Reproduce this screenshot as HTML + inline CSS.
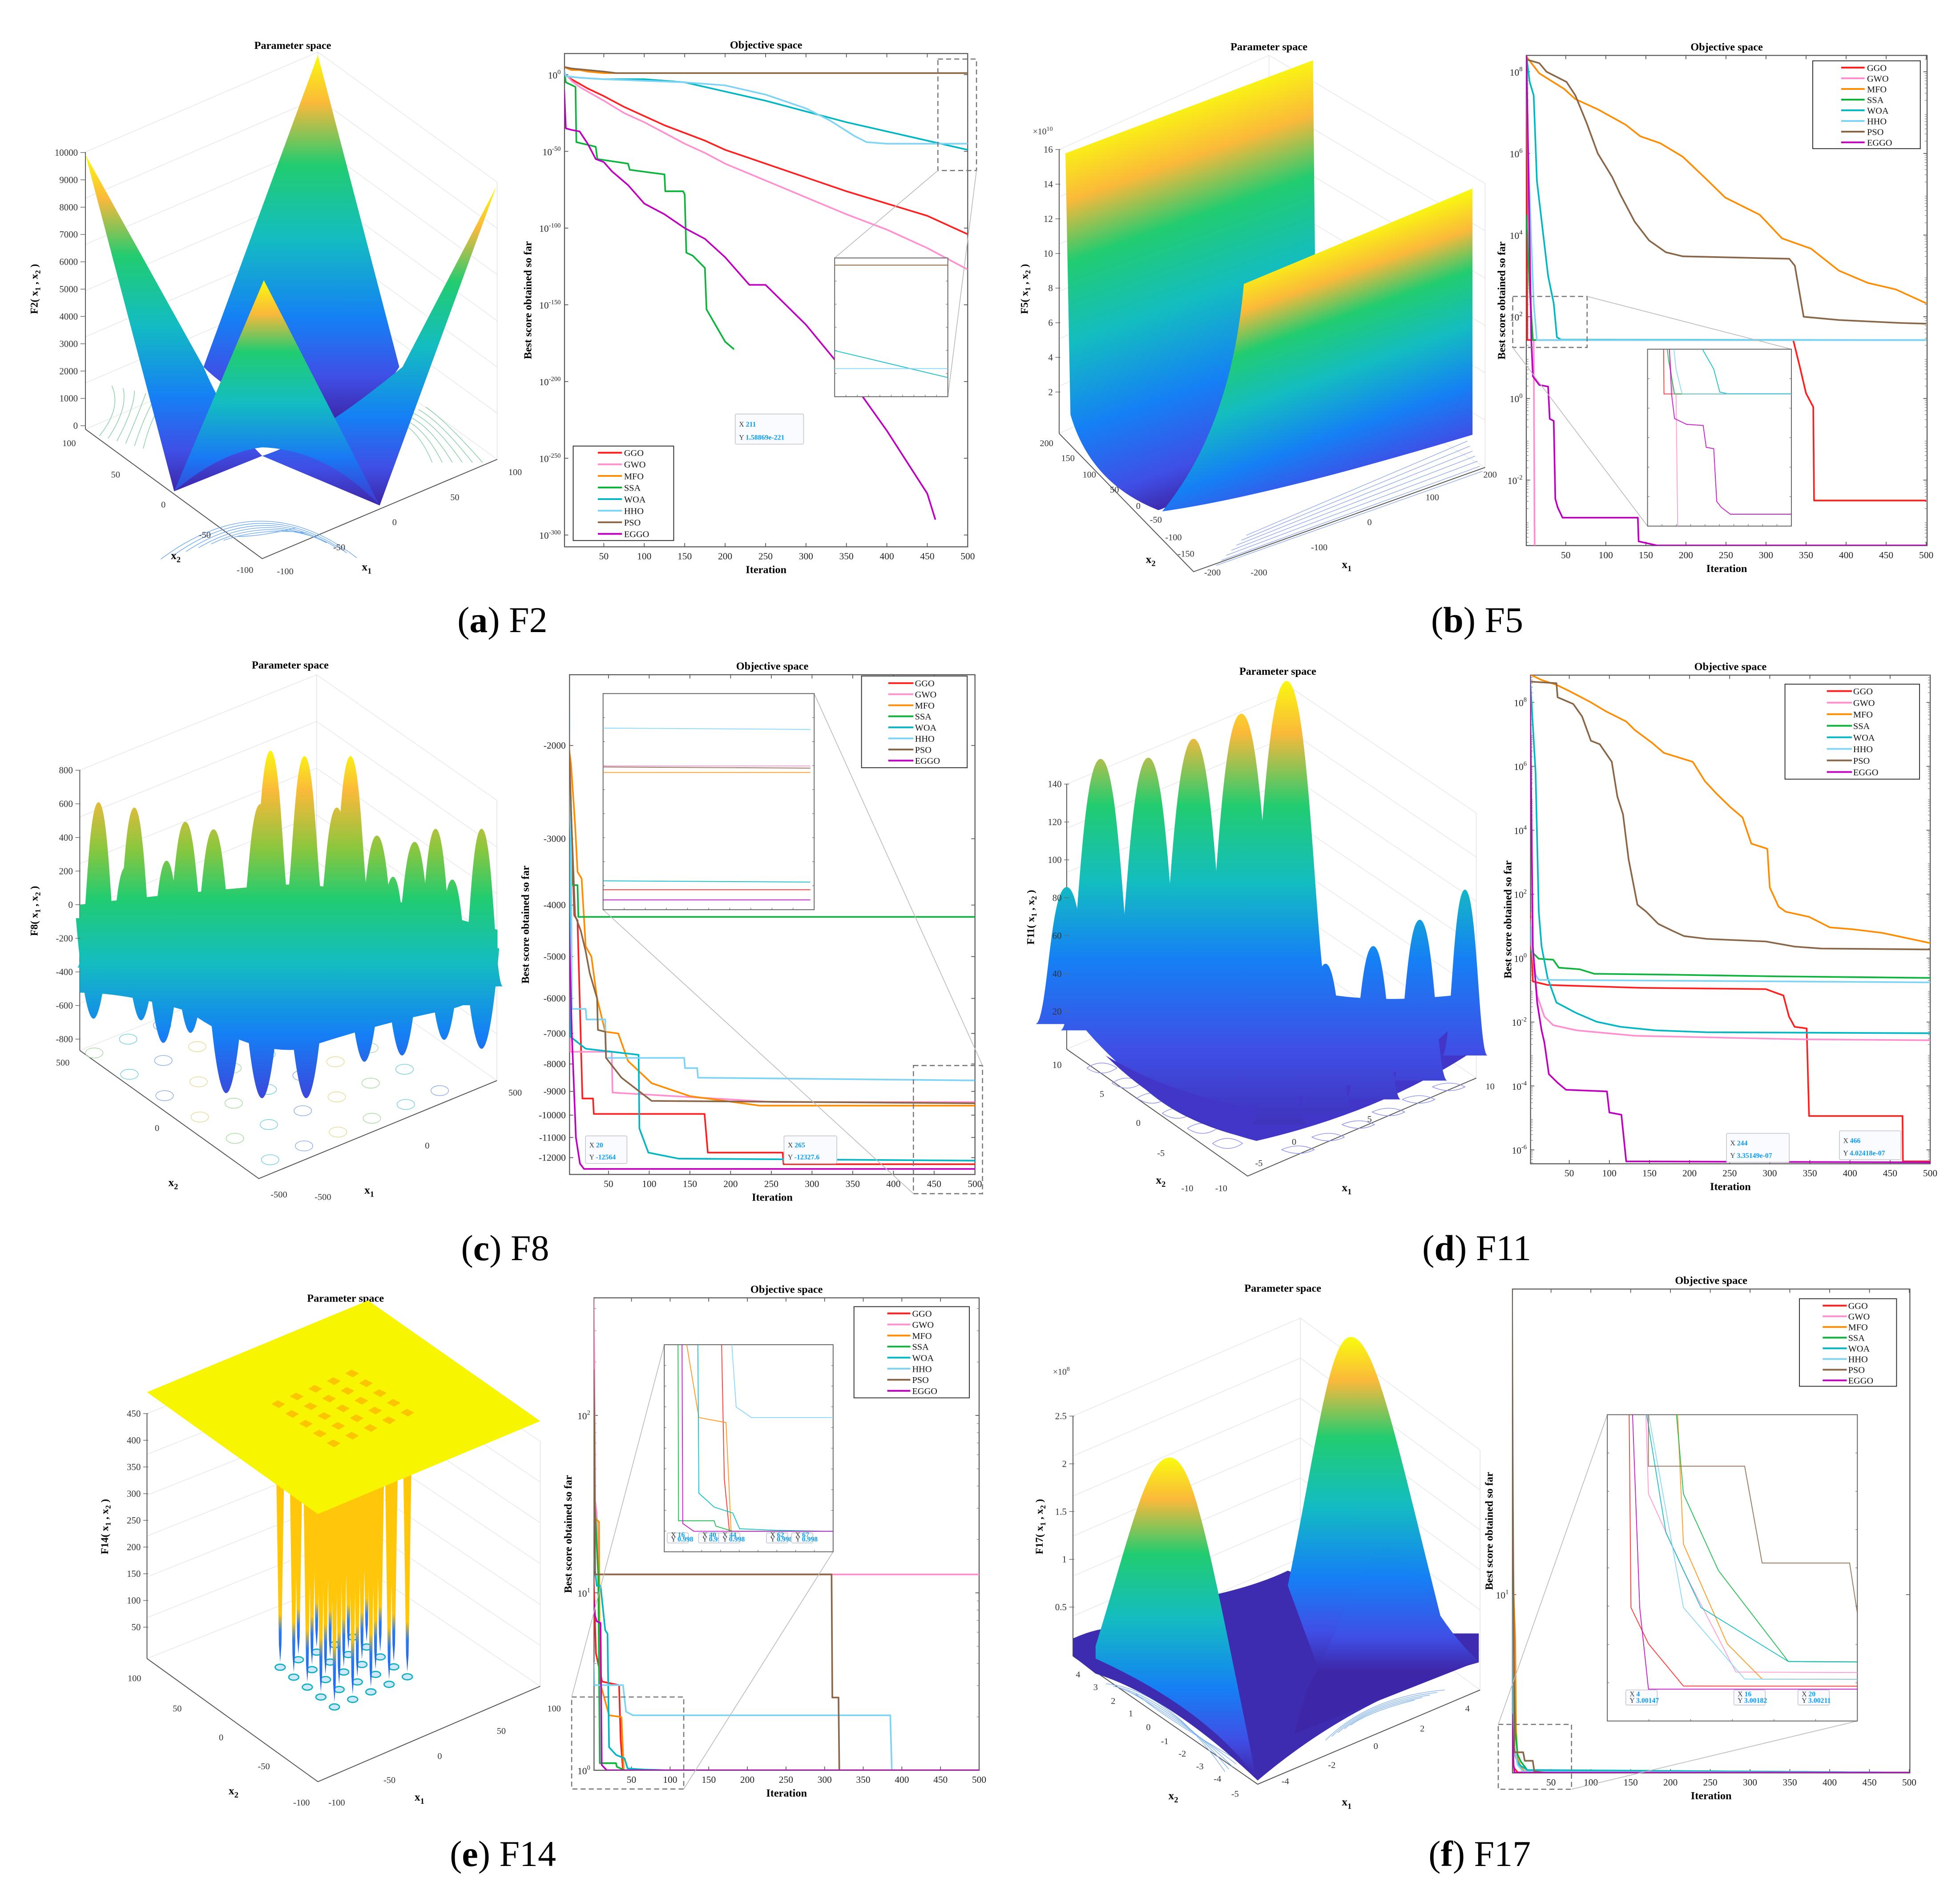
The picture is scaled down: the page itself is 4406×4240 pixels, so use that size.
<!DOCTYPE html>
<html><head><meta charset="utf-8">
<style>
html,body{margin:0;padding:0;background:#fff;}
svg{display:block;}
text{font-family:"Liberation Serif",serif;}
</style></head>
<body>
<svg id="fig" width="4406" height="4240" viewBox="0 0 1560 1501" preserveAspectRatio="none">
<defs>
<linearGradient id="parBox" x1="0" y1="0" x2="0" y2="1">
<stop offset="0" stop-color="#f9fb0e"/><stop offset=".13" stop-color="#fbb93a"/><stop offset=".3" stop-color="#22cc70"/><stop offset=".5" stop-color="#13bdc0"/><stop offset=".72" stop-color="#1580f5"/><stop offset=".88" stop-color="#3f4fe6"/><stop offset="1" stop-color="#3e26a8"/></linearGradient>
<linearGradient id="parA" gradientUnits="userSpaceOnUse" x1="0" y1="45" x2="0" y2="400">
<stop offset="0" stop-color="#f9fb0e"/><stop offset=".12" stop-color="#fbb93a"/><stop offset=".25" stop-color="#22cc70"/><stop offset=".45" stop-color="#13bdc0"/><stop offset=".7" stop-color="#1580f5"/><stop offset=".88" stop-color="#3f4fe6"/><stop offset="1" stop-color="#3e26a8"/></linearGradient>
<linearGradient id="parFront" gradientUnits="userSpaceOnUse" x1="0" y1="223" x2="0" y2="400">
<stop offset="0" stop-color="#f9fb0e"/><stop offset=".15" stop-color="#fbb93a"/><stop offset=".32" stop-color="#22cc70"/><stop offset=".55" stop-color="#13bdc0"/><stop offset=".8" stop-color="#1a78f5"/><stop offset="1" stop-color="#3e3ad0"/></linearGradient>
<linearGradient id="parB1" gradientUnits="userSpaceOnUse" x1="848" y1="112" x2="950" y2="400">
<stop offset="0" stop-color="#f9fb0e"/><stop offset=".15" stop-color="#fbb93a"/><stop offset=".3" stop-color="#22cc70"/><stop offset=".5" stop-color="#13bdc0"/><stop offset=".72" stop-color="#1580f5"/><stop offset=".9" stop-color="#3f4fe6"/><stop offset="1" stop-color="#3e26a8"/></linearGradient>
<linearGradient id="parB2" gradientUnits="userSpaceOnUse" x1="990" y1="215" x2="1060" y2="408">
<stop offset="0" stop-color="#f9fb0e"/><stop offset=".15" stop-color="#fbb93a"/><stop offset=".3" stop-color="#22cc70"/><stop offset=".5" stop-color="#13bdc0"/><stop offset=".72" stop-color="#1580f5"/><stop offset=".9" stop-color="#3f4fe6"/><stop offset="1" stop-color="#3e26a8"/></linearGradient>
<linearGradient id="parC" gradientUnits="userSpaceOnUse" x1="0" y1="595" x2="0" y2="880">
<stop offset="0" stop-color="#f9fb0e"/><stop offset=".12" stop-color="#fbb93a"/><stop offset=".28" stop-color="#8cc63e"/><stop offset=".42" stop-color="#22cc70"/><stop offset=".6" stop-color="#13bdc0"/><stop offset=".8" stop-color="#1580f5"/><stop offset="1" stop-color="#4040d8"/></linearGradient>
<linearGradient id="parD" gradientUnits="userSpaceOnUse" x1="0" y1="540" x2="0" y2="900">
<stop offset="0" stop-color="#f9fb0e"/><stop offset=".12" stop-color="#fbb93a"/><stop offset=".28" stop-color="#22cc70"/><stop offset=".45" stop-color="#13bdc0"/><stop offset=".62" stop-color="#1580f5"/><stop offset=".82" stop-color="#3f4fe6"/><stop offset="1" stop-color="#4030b8"/></linearGradient>
<linearGradient id="parF" gradientUnits="userSpaceOnUse" x1="0" y1="1060" x2="0" y2="1330">
<stop offset="0" stop-color="#f9fb0e"/><stop offset=".15" stop-color="#fbb93a"/><stop offset=".32" stop-color="#22cc70"/><stop offset=".5" stop-color="#13bdc0"/><stop offset=".72" stop-color="#1580f5"/><stop offset=".9" stop-color="#3f4fe6"/><stop offset="1" stop-color="#3e26a8"/></linearGradient>
<linearGradient id="spikeG" gradientUnits="objectBoundingBox" x1="0" y1="0" x2="0" y2="1">
<stop offset="0" stop-color="#ffc60a"/><stop offset=".78" stop-color="#ffc60a"/><stop offset=".86" stop-color="#2a7af0"/><stop offset="1" stop-color="#1e60f0"/></linearGradient>
</defs>
<g id="root"></g>
</svg>
<script>
// ================== DATA ==================
const SERIES_NAMES = ["GGO","GWO","MFO","SSA","WOA","HHO","PSO","EGGO"];
const SERIES_COLORS = ["#ff1e1e","#ff8fcf","#ff8c00","#0cb43c","#00b7c3","#7fd4f6","#8a6648","#c000c0"];

// Panel (a) F2: log10 best score
const A_IT = [
 [1,5,10,20,30,50,75,100,125,150,175,200,250,300,350,400,450,500],
 [1,5,10,20,30,50,75,100,125,150,175,200,250,300,350,400,450,500],
 [1,5,10,20,30,50,60,500],
 [1,3,15,16,40,42,80,82,110,125,126,148,150,152,160,175,177,200,211],
 [1,3,20,50,100,150,200,250,300,350,400,450,500],
 [1,3,20,50,100,150,200,250,300,330,360,375,400,450,500],
 [1,10,30,50,65,75,500],
 [1,3,10,20,30,40,50,60,80,100,125,150,175,200,230,250,300,350,400,450,460]];
const A_VAL = [
 [0,-1,-3,-6,-9,-14,-21,-27,-33,-38,-43,-49,-58,-67,-76,-84,-92,-104],
 [0,-1,-4,-8,-11,-17,-25,-31,-38,-45,-51,-58,-69,-80,-91,-101,-113,-127],
 [5,4,3,3,2,1,1,1],
 [3,-5,-8,-44,-47,-55,-58,-62,-64,-65,-76,-76,-78,-116,-118,-126,-153,-174,-179],
 [2,-1,-2,-3,-3,-5,-11,-17,-24,-31,-37,-43,-49],
 [3,-1,-2,-3,-4,-5,-7,-13,-22,-30,-40,-44,-45,-45,-45],
 [5,4,3,2,1,1,1],
 [-10,-35,-36,-37,-45,-55,-57,-63,-72,-84,-91,-100,-107,-119,-137,-137,-163,-195,-232,-273,-290]];
const A_XTICKS = [50,100,150,200,250,300,350,400,450,500];
const A_YTICKS = [0,-50,-100,-150,-200,-250,-300];

// Panel (b) F5: log10
const B_IT = [
 [1,2,334,343,350,359,360,500],
 [1,4,8,10,11,12,500],
 [1,17,48,62,90,125,143,168,196,225,249,292,320,356,391,427,462,500],
 [1,5,9,500],
 [1,5,10,14,19,28,35,39,44,500],
 [1,3,7,10,14,500],
 [1,17,26,51,62,76,90,108,118,136,154,175,196,329,336,347,391,466,500],
 [1,7,9,17,28,30,35,37,40,46,140,141,164,500]];
const B_VAL = [
 [8.4,1.43,1.43,0.71,0.125,-0.21,-2.5,-2.5],
 [8.4,4,1.43,1.43,-3,-6,-6],
 [8.37,7.96,7.58,7.33,7.08,6.7,6.42,6.25,5.92,5.38,4.92,4.5,3.92,3.67,3.13,2.83,2.67,2.33],
 [4.5,2.67,1.43,1.43],
 [8.37,7.75,7.42,5.33,4.5,3.0,2.33,1.5,1.44,1.43],
 [8.4,6.17,3.83,2.33,1.43,1.43],
 [8.3,8.21,8.0,7.75,7.42,6.75,6.0,5.42,5.0,4.33,3.87,3.58,3.48,3.42,3.25,2.0,1.92,1.85,1.83],
 [8.4,1.43,0.54,0.33,0.29,-0.5,-0.55,-2.46,-2.67,-2.92,-2.92,-3.5,-3.6,-3.6]];
const B_XTICKS = [50,100,150,200,250,300,350,400,450,500];
const B_YTICKS = [8,6,4,2,0,-2];

// Panel (c) F8: raw values
const C_IT = [
 [1,8,12,18,31,32,168,172,264,265,500],
 [1,3,54,55,206,253,500],
 [1,4,9,12,17,22,29,36,46,62,74,103,150,236,500],
 [1,5,12,13,500],
 [1,3,22,87,88,99,136,500],
 [1,4,5,22,23,46,47,143,144,159,160,500],
 [1,4,9,16,22,27,36,37,46,47,66,103,500],
 [1,5,10,15,20,500]];
const C_VAL = [
 [-1800,-4200,-4300,-9300,-9300,-9950,-9950,-11750,-11750,-12328,-12328],
 [-3000,-7600,-7600,-9050,-9350,-9450,-9450],
 [-2000,-2200,-2850,-3500,-3600,-4800,-5000,-6000,-6950,-7000,-7900,-8700,-9200,-9600,-9600],
 [-2200,-3700,-3700,-4230,-4230],
 [-1100,-7100,-7500,-7700,-10600,-11750,-12050,-12150],
 [-2400,-3000,-6300,-6300,-6600,-6600,-7800,-7800,-8150,-8150,-8500,-8600],
 [-1800,-2700,-4200,-4500,-4900,-5400,-6000,-6900,-6950,-7800,-8500,-9400,-9500],
 [-4000,-7000,-11000,-12300,-12564,-12564]];
const C_XTICKS = [50,100,150,200,250,300,350,400,450,500];
const C_YTICKS = [-2000,-3000,-4000,-5000,-6000,-7000,-8000,-9000,-10000,-11000,-12000];

// Panel (d) F11: log10
const D_IT = [
 [1,4.6,23,139,295,317,324,331,346,349,465.5,466,500],
 [1,3,10,19,30,59,132,338,500],
 [1,3,15.5,34,52,77,95,121,132,153,168,204,219,233,251,266,277,297,300,311,320,349,375,404,440,500],
 [1,12,30,37,63,81,179,306,500],
 [1,8,12,15.5,23,34,59,84,114,157,222,500],
 [1,3,8,12,500],
 [1,34,35.5,55,66,77,88,103,110,117,124,135,146,161,179,193,222,295,331,364,500],
 [1,4.6,10,15.5,19,24.6,35.5,46,97,100,115,121,500]];
const D_VAL = [
 [1.45,-0.73,-0.84,-0.93,-0.97,-1.17,-1.83,-2.15,-2.2,-4.94,-4.94,-6.36,-6.36],
 [0.8,0.36,-1.17,-1.83,-2.1,-2.26,-2.43,-2.54,-2.57],
 [8.85,8.85,8.7,8.55,8.33,8.0,7.73,7.4,7.13,6.74,6.42,6.14,5.54,5.16,4.72,4.4,3.58,3.42,2.21,1.61,1.45,1.29,0.96,0.9,0.79,0.47],
 [0.25,-0.02,-0.05,-0.3,-0.35,-0.49,-0.52,-0.57,-0.62],
 [8.82,5.82,1.45,0.36,-0.62,-1.39,-1.72,-1.99,-2.15,-2.26,-2.32,-2.35],
 [1.23,0.5,-0.52,-0.68,-0.76],
 [8.65,8.6,8.16,7.95,7.56,6.8,6.69,6.14,5.05,4.5,3.09,1.67,1.45,1.07,0.85,0.69,0.6,0.52,0.36,0.3,0.27],
 [8.85,0.36,-1.39,-2.26,-2.64,-3.63,-3.9,-4.12,-4.17,-4.83,-4.9,-6.36,-6.39]];
const D_XTICKS = [50,100,150,200,250,300,350,400,450,500];
const D_YTICKS = [8,6,4,2,0,-2,-4,-6];

// Panel (e) F14: log10
const E_IT = [
 [1,4,12,34,36,39,500],
 [1,2,3,5,7,500],
 [1,3,8,9,21,37,40,500],
 [1,7,9,30,31,41,500],
 [1,5,10,16,19,21,30,41,45,66,95,500],
 [1,2,39,43,52,385,387,500],
 [1,2,3,309,310,318,319,500],
 [1,3,5,10,11.5,18,500]];
const E_VAL = [
 [1.09,0.66,0.5,0.48,0.17,0,0],
 [2.66,2.3,1.52,1.45,1.104,1.104],
 [1.42,1.42,1.4,0.5,0.31,0.3,0,0],
 [1.63,1.1,0.04,0.04,0.02,0,0],
 [1.2,1.04,1.04,0.79,0.77,0.13,0.087,0.067,0.01,0.004,0,0],
 [0.61,0.48,0.48,0.33,0.31,0.31,0,0],
 [2.26,1.94,1.104,1.104,0.41,0.41,0,0],
 [0.96,0.87,0.84,0.83,0.03,0,0]];
const E_XTICKS = [50,100,150,200,250,300,350,400,450,500];
const E_YTICKS = [0,1,2];

// Panel (f) F17: log10
const F_IT = [
 [1,2,4,8,500],
 [1,2,4,8,14,500],
 [1,3,5,6,8,13,17,500],
 [1,3,5,8,12,20,500],
 [1,2,3,6,10,20,500],
 [1,2,4,8,15,500],
 [1,2,4,15,17,27,29,45,500],
 [1,2,3,4,500]];
const F_VAL = [
 [0.7,0.5,0.49,0.478,0.4771],
 [1.2,0.65,0.53,0.51,0.482,0.4771],
 [1.3,1.0,0.868,0.608,0.517,0.49,0.48,0.4771],
 [1.5,0.8,0.6,0.53,0.51,0.485,0.4771],
 [1.6,0.7,0.56,0.52,0.5,0.485,0.4771],
 [1.0,0.62,0.55,0.5,0.48,0.4771],
 [1.9,1.3,0.537,0.537,0.512,0.512,0.481,0.476,0.4771],
 [0.65,0.56,0.5,0.4771,0.4771]];
const F_XTICKS = [50,100,150,200,250,300,350,400,450,500];
const F_YTICKS = [1];

// ================== HELPERS ==================
const NS = "http://www.w3.org/2000/svg";
const root = document.getElementById('root');
function mk(tag, parent){ const e=document.createElementNS(NS,tag); (parent||root).appendChild(e); return e; }
function at(e,o){ for(const k in o) e.setAttribute(k,o[k]); return e; }
function txt(parent, x, y, s, size, opts){
  const t = mk('text', parent);
  at(t,{x:x,y:y,'font-size':size,fill:'#000'});
  if(opts) at(t,opts);
  t.textContent = s;
  return t;
}
function pathD(its, vals, fx, fy){
  return its.map((i,k)=>(k?'L':'M')+fx(i).toFixed(2)+','+fy(vals[k]).toFixed(2)).join('');
}
let clipN=0;
function clipRect(x,y,w,h){
  const defs=document.querySelector('defs');
  const cp=document.createElementNS(NS,'clipPath'); const id='cp'+(clipN++);
  cp.setAttribute('id',id); defs.appendChild(cp);
  const r=document.createElementNS(NS,'rect'); at(r,{x:x,y:y,width:w,height:h}); cp.appendChild(r);
  return 'url(#'+id+')';
}

function drawChart(cfg){
  const g = mk('g');
  
  
  const [l,t,r,b] = cfg.box;
  const ti = txt(g,(l+r)/2,t-4,'Objective space',8.6,{'text-anchor':'middle','font-weight':'bold'});
  
  
  const fr = mk('rect', g);
  at(fr,{x:l,y:t,width:r-l,height:b-t,fill:'#fff',stroke:'#555','stroke-width':0.8});
  
  
  cfg.xticks.forEach(v=>{
    const x = cfg.fx(v);
    const tk = mk('path', g);
    at(tk,{d:'M'+x+','+b+'v-3M'+x+','+t+'v3',stroke:'#555','stroke-width':0.6});
    
    
    const lb = txt(g,x,b+10,String(v),7.6,{'text-anchor':'middle',fill:'#222'});
    
    
  });
  cfg.yticks.forEach(v=>{
    const y = cfg.fy(v);
    const tk = mk('path', g);
    at(tk,{d:'M'+l+','+y+'h3M'+r+','+y+'h-3',stroke:'#555','stroke-width':0.6});
    
    
    let lb;
    if(cfg.linear){
      lb = txt(g,l-3,y+2.5,String(v),7.6,{'text-anchor':'end',fill:'#222'});
    } else {
      lb = txt(g,l-3,y+3,'',7.6,{'text-anchor':'end',fill:'#222'});
      const a = mk('tspan', lb); a.textContent='10';
      const s = mk('tspan', lb); at(s,{'font-size':5.2,dy:-3.5}); s.textContent=String(v);
    }
    
    
  });
  if(cfg.minor){
    for(let k=0;k<cfg.minor.length;k++){
      const y=cfg.minor[k];
      if(y<t||y>b) continue;
      const m = mk('path', g);
      at(m,{d:'M'+l+','+y+'h1.8M'+r+','+y+'h-1.8',stroke:'#777','stroke-width':0.4});
      
      
    }
  }
  const xl = txt(g,(l+r)/2,b+21,'Iteration',8.6,{'text-anchor':'middle','font-weight':'bold'});
  
  
  const yx = cfg.ylabX, yy=(t+b)/2;
  const yl = txt(g,yx,yy,'Best score obtained so far',8.6,{'text-anchor':'middle','font-weight':'bold',transform:'rotate(-90 '+yx+' '+yy+')'});
  
  
  const sg = mk('g', g);
  sg.setAttribute('clip-path', clipRect(l,t,r-l,b-t));
  
  
  for(let s=0;s<8;s++){
    const p = mk('path', sg);
    at(p,{d:pathD(cfg.its[s],cfg.vals[s],cfg.fx,cfg.fy),fill:'none',stroke:SERIES_COLORS[s],'stroke-width':1.3,'stroke-linejoin':'round'});
    
    
  }
  return g;
}

function drawLegend(x0,y0,x1,y1,row0,step,lx0,lx1,tx){
  const g = mk('g');
  
  
  const r = mk('rect', g);
  at(r,{x:x0,y:y0,width:x1-x0,height:y1-y0,fill:'#fff',stroke:'#333','stroke-width':0.7});
  
  
  for(let s=0;s<8;s++){
    const y=row0+s*step;
    const ln = mk('path', g);
    at(ln,{d:'M'+lx0+','+y+'H'+lx1,stroke:SERIES_COLORS[s],'stroke-width':1.4});
    
    
    const t = txt(g,tx,y+2.6,SERIES_NAMES[s],7.2,{fill:'#111'});
    
    
  }
}

function drawInset(box, fx, fy, its, vals, xt, yt){
  const [l,t,r,b]=box;
  const g = mk('g');
  
  
  const rc = mk('rect', g);
  at(rc,{x:l,y:t,width:r-l,height:b-t,fill:'#fff',stroke:'#666','stroke-width':0.7});
  
  
  const ticks = mk('path', g);
  let d='';
  for(let k=0;k<=xt;k++){const x=l+(r-l)*k/xt; d+='M'+x+','+b+'v-1.5';}
  for(let k=0;k<=yt;k++){const y=t+(b-t)*k/yt; d+='M'+l+','+y+'h1.5M'+r+','+y+'h-1.5';}
  at(ticks,{d:d,stroke:'#666','stroke-width':0.4});
  
  
  const sg = mk('g', g);
  sg.setAttribute('clip-path', clipRect(l,t,r-l,b-t));
  
  
  for(let s=0;s<8;s++){
    const p = mk('path', sg);
    at(p,{d:pathD(its[s],vals[s],fx,fy),fill:'none',stroke:SERIES_COLORS[s],'stroke-width':0.7,opacity:0.85});
    
    
  }
}
function dashedZoom(x0,y0,x1,y1,lines){
  const g = mk('g');
  
  
  const r = mk('rect', g);
  at(r,{x:x0,y:y0,width:x1-x0,height:y1-y0,fill:'none',stroke:'#777','stroke-width':0.9,'stroke-dasharray':'4,2.5'});
  
  
  const p = mk('path', g);
  at(p,{d:lines,stroke:'#bbb','stroke-width':0.6,fill:'none'});
  
  
}
function dataTip(x,y,w,h,xs,ys){
  const g = mk('g');
  
  
  const r = mk('rect', g);
  at(r,{x:x,y:y,width:w,height:h,fill:'#fafbff',stroke:'#c8c8d0','stroke-width':0.6,rx:1});
  
  
  const t1 = txt(g,x+3,y+h*0.42,'',5.6,{'font-family':'"Liberation Sans",sans-serif',fill:'#333'});
  const a1=mk('tspan',t1); a1.textContent='X ';
  const b1=mk('tspan',t1); at(b1,{fill:'#0a9cf0','font-weight':'bold'}); b1.textContent=xs;
  
  
  const t2 = txt(g,x+3,y+h*0.85,'',5.6,{'font-family':'"Liberation Sans",sans-serif',fill:'#333'});
  const a2=mk('tspan',t2); a2.textContent='Y ';
  const b2=mk('tspan',t2); at(b2,{fill:'#0a9cf0','font-weight':'bold'}); b2.textContent=ys;
  
  
}
function caption(x,y,letter,fn){
  const t = txt(root,x,y,'',29,{});
  const a=mk('tspan',t); a.textContent='(';
  const b=mk('tspan',t); b.setAttribute('font-weight','bold'); b.textContent=letter;
  const c=mk('tspan',t); c.textContent=') '+fn;
  
  
}
function minorLog(fy, lo, hi, step){
  const out=[];
  for(let d=lo; d<hi; d+=step){ for(let m=2;m<10;m++){ out.push(fy(d+Math.log10(m)*step)); } }
  return out;
}

// ================== 3D SURFACE HELPERS ==================
function shape(parent, d, fill, name, extra){
  const p = mk('path', parent);
  at(p,{d:d,fill:fill,stroke:'none'});
  if(extra) at(p,extra);
  
  
  return p;
}
function line3d(parent, d, col, w, name){
  const p = mk('path', parent);
  at(p,{d:d,stroke:col,'stroke-width':w,fill:'none'});
  
  
  return p;
}
function bell(x, top, base, w){
  return 'M'+(x-w)+','+base+' C'+(x-w*0.6)+','+base+' '+(x-w*0.55)+','+top+' '+x+','+top+' C'+(x+w*0.55)+','+top+' '+(x+w*0.6)+','+base+' '+(x+w)+','+base+' Z';
}
function zLabels(parent, x, y0, y1, labels){
  labels.forEach((s,k)=>{
    const y = y0 + (y1-y0)*k/(labels.length-1);
    const t = txt(parent,x,y+2.5,s,7.4,{'text-anchor':'end',fill:'#333'});
    
    
    line3d(parent,'M'+(x+2)+','+y+'h4','#666',0.5,'z-tick');
  });
}
function ptitle(parent,x,y){
  const t = txt(parent,x,y,'Parameter space',8.6,{'text-anchor':'middle','font-weight':'bold'});
  
  
}
function axLabel(parent,x,y,main,sub,rot){
  const t = txt(parent,x,y,'',9,{'font-weight':'bold'});
  if(rot) t.setAttribute('transform','rotate(-90 '+x+' '+y+')');
  const a=mk('tspan',t); a.textContent=main;
  const b=mk('tspan',t); at(b,{'font-size':6.5,dy:2.5}); b.textContent=sub;
  
  
  return t;
}
function fLabel(parent,x,y,fn){
  const t = txt(parent,x,y,'',8.4,{'font-weight':'bold','text-anchor':'middle',transform:'rotate(-90 '+x+' '+y+')'});
  const a=mk('tspan',t); a.textContent=fn+'( x';
  const b=mk('tspan',t); at(b,{'font-size':6,dy:2}); b.textContent='1';
  const c=mk('tspan',t); at(c,{dy:-2}); c.textContent=' , x';
  const d=mk('tspan',t); at(d,{'font-size':6,dy:2}); d.textContent='2';
  const e=mk('tspan',t); at(e,{dy:-2}); e.textContent=' )';
  
  
}
function floorTicks(parent, list){
  list.forEach(([x,y,s])=>{
    const t = txt(parent,x,y,s,7.2,{'text-anchor':'middle',fill:'#333'});
    
    
  });
}
function grid3d(parent, zx, ztop, zbot, left, back, right, front){
  let d='';
  for(let k=0;k<=6;k++){
    const f=k/6; const y=ztop+(zbot-ztop)*f;
    d+='M'+left[0]+','+(left[1]-(zbot-y))+'L'+back[0]+','+(back[1]-(zbot-y))+'L'+right[0]+','+(right[1]-(zbot-y));
  }
  line3d(parent,d,'#e6e6e6',0.5,'grid-lines');
  line3d(parent,'M'+back[0]+','+back[1]+'V'+(back[1]-(zbot-ztop))+'M'+right[0]+','+right[1]+'V'+(right[1]-(zbot-ztop)),'#e0e0e0',0.5,'grid-edge');
  line3d(parent,'M'+left[0]+','+left[1]+'L'+front[0]+','+front[1]+'L'+right[0]+','+right[1]+'M'+zx+','+ztop+'V'+left[1],'#555',0.7,'axes-box');
}

// ================== PANEL A 3D (F2) ==================
(function(){
  const g = mk('g');  
  ptitle(g,233,39);
  grid3d(g,68,121,341.6,[68,341.6],[253,262],[395.7,365.6],[208.7,444.6]);
  let cd='';
  for(let k=1;k<=7;k++){ cd+='M'+(118+k*10)+','+(448-k*3)+'Q'+(208)+','+(378+k*7)+' '+(292-k*8)+','+(448-k*4); }
  line3d(g,cd,'#6aa8f0',0.5,'floor-contours');
  let cd2='';
  for(let k=1;k<=6;k++){ cd2+='M'+(72+k*7)+','+(345+k*2)+'Q'+(92+k*5)+','+(325)+' '+(80+k*9)+','+(305+k*2); cd2+='M'+(392-k*8)+','+(368)+'Q'+(360-k*5)+','+(335)+' '+(345-k*6)+','+(322+k*2);}
  line3d(g,cd2,'#7fcfa0',0.5,'floor-contours-side');
  shape(g,'M253,43.8 L162,292 Q200,330 271,334.6 Q300,320 317.8,292 Z','url(#parBox)','back-sheet');
  shape(g,'M68,123 L162,292 Q180,335 208.7,362.8 L138.6,391 Z','url(#parBox)','left-wing');
  shape(g,'M395.2,148.2 L320.4,292 Q250,350 208.7,362.8 L302.2,402.3 Z','url(#parBox)','right-wing');
  shape(g,'M210,223 L138.6,391 Q175,360 208.7,356 Q260,358 302.2,402.3 Z','url(#parFront)','front-pyramid');
  zLabels(g,62,121.4,338.8,['10000','9000','8000','7000','6000','5000','4000','3000','2000','1000','0']);
  fLabel(g,30,230,'F2');
  floorTicks(g,[[55,355,'100'],[92,380,'50'],[130,404,'0'],[163,428,'-50'],[195,456,'-100'],[227,457,'-100'],[270,438,'-50'],[314,418,'0'],[362,398,'50'],[410,378,'100']]);
  axLabel(g,136,445,'x','2'); axLabel(g,288,454,'x','1');
})();

// ================== PANEL B 3D (F5) ==================
(function(){
  const g = mk('g');  
  ptitle(g,1010,40);
  grid3d(g,843,119,345,[843,345],[1010,270],[1182,372],[950,455]);
  let cd='';
  for(let k=0;k<7;k++){ cd+='M'+(968+k*4)+','+(450-k*4)+'L'+(1180-k*2)+','+(375-k*4); }
  line3d(g,cd,'#8fa8ee',0.5,'floor-contours');
  shape(g,'M848,122 L1045,48 L1047,240 L992,226 L986,330 Q950,398 922,406 Q868,385 852,330 Z','url(#parB1)','left-sheet');
  shape(g,'M990,226 L1172,150 L1172,346 Q1010,395 925,407 Q980,340 990,226 Z','url(#parB2)','right-sheet');
  zLabels(g,838,119,312,['16','14','12','10','8','6','4','2']);
  const m = txt(g,822,107,'',7,{fill:'#333'}); const m1=mk('tspan',m); m1.textContent='×10'; const m2=mk('tspan',m); at(m2,{'font-size':5,dy:-3}); m2.textContent='10';
   
  fLabel(g,818,230,'F5');
  floorTicks(g,[[833,355,'200'],[850,367,'150'],[867,380,'100'],[887,392,'50'],[906,405,'0'],[920,416,'-50'],[934,430,'-100'],[944,443,'-150'],[965,458,'-200'],[1002,458,'-200'],[1050,438,'-100'],[1090,418,'0'],[1140,398,'100'],[1186,380,'200']]);
  axLabel(g,912,448,'x','2'); axLabel(g,1068,452,'x','1');
})();

// ================== PANEL C 3D (F8) ==================
(function(){
  const g = mk('g');  
  ptitle(g,231,532);
  grid3d(g,63.5,613,836,[63.5,836],[252,760],[395.5,860],[206,938]);
  const cols=['#a8d8a0','#6fd0d8','#8fa8ee','#e8d890'];
  for(let i=0;i<6;i++){ for(let j=0;j<6;j++){
    const cx=75+i*27+j*28, cy=838-i*11+j*17;
    const e=mk('ellipse',g); at(e,{cx:cx,cy:cy,rx:7,ry:4,fill:'none',stroke:cols[(i+j)%4],'stroke-width':0.5});
     
  }}
  const drips=[[74.4,810.7],[112.3,812],[151.6,822],[180,870],[208.5,874],[243.7,874],[353.5,827.6],[383.3,834.7],[290,845],[130,830],[320,840]];
  drips.forEach(([x,y])=>{ shape(g,'M'+(x-14)+','+(y-80)+' C'+(x-9)+','+(y-20)+' '+(x-4)+','+y+' '+x+','+y+' C'+(x+4)+','+y+' '+(x+9)+','+(y-20)+' '+(x+14)+','+(y-80)+' Z','url(#parC)','valley'); });
  shape(g,'M63.5,720 L63.5,790 Q100,790 150,805 Q200,840 240,835 Q300,815 350,805 Q380,800 396,780 L396,740 Q340,725 300,712 Q240,700 200,706 Q130,712 63.5,720 Z','url(#parC)','surface-base');
  const peaks=[[268.1,642.7,740],[207.2,640,740],[215.3,597.5,730],[242.4,601.8,730],[279,601.8,730],[147.5,654,750],[170,660,750],[300,665,750],[330,670,755],[78.4,638.5,770],[106.9,642.7,770],[346.7,659.6,775],[383.3,659.6,785],[132.6,685,790],[180,707.6,805],[209.9,702,815],[251.9,713.3,815],[312.8,697.8,805],[100,690,790],[360,700,800]];
  peaks.forEach(([x,t,b])=>{ shape(g,bell(x,t,b,17),'url(#parC)','peak'); });
  zLabels(g,58,613,827,['800','600','400','200','0','-200','-400','-600','-800']);
  fLabel(g,30,725,'F8');
  floorTicks(g,[[50,848,'500'],[125,900,'0'],[222,953,'-500'],[257,955,'-500'],[340,914,'0'],[410,872,'500']]);
  axLabel(g,134,944,'x','2'); axLabel(g,290,950,'x','1');
})();

// ================== PANEL D 3D (F11) ==================
(function(){
  const g = mk('g');  
  ptitle(g,1017,537);
  grid3d(g,849,624,835,[849,835],[1030,760],[1175,858],[993,936]);
  let cd='';
  for(let k=0;k<6;k++){ cd+='M'+(865+k*20)+','+(850+k*12)+'q12,-8 24,0 q-12,8 -24,0'; cd+='M'+(1020+k*24)+','+(915-k*10)+'q14,-6 26,0 q-12,6 -26,0'; }
  line3d(g,cd,'#8a90ee',0.5,'floor-contours');
  shape(g,'M849,770 L849,800 Q870,830 900,855 Q930,890 990,905 Q1060,890 1120,865 Q1160,830 1175,800 L1175,790 Q1100,800 1050,790 Q950,790 849,770 Z','url(#parD)','surface-base');
  shape(g,bell(849,706,815,25),'url(#parD)','left-shoulder');
  [[876,604,820,32],[914,603,820,32],[950,588,820,34],[988,568,820,36],[1024,542,815,38]].forEach(([x,t,b,w])=>shape(g,bell(x,t,b,w),'url(#parD)','big-peak'));
  shape(g,'M880,840 Q930,870 990,880 Q1060,870 1120,850 L1175,800 L1175,835 Q1100,885 1000,908 Q930,890 880,840 Z','#4236c8','front-trough');
  [[1018,779,895,22],[1055,767,885,22],[1093,753,875,22],[1130,732,860,22],[1166,708,840,18]].forEach(([x,t,b,w])=>shape(g,bell(x,t,b,w),'url(#parD)','front-peak'));
  zLabels(g,845,624,805,['140','120','100','80','60','40','20']);
  const t10=txt(g,845,850,'10',7.4,{'text-anchor':'end',fill:'#333'});  
  fLabel(g,823,730,'F11');
  floorTicks(g,[[877,873,'5'],[906,896,'0'],[924,920,'-5'],[945,948,'-10'],[972,948,'-10'],[1002,928,'-5'],[1030,911,'0'],[1090,893,'5'],[1186,867,'10']]);
  axLabel(g,920,942,'x','2'); axLabel(g,1068,948,'x','1');
})();

// ================== PANEL E 3D (F14) ==================
(function(){
  const g = mk('g');  
  ptitle(g,275,1036);
  grid3d(g,117,1125,1320,[117,1320],[293,1250],[430,1342],[253,1418]);
  const o=[266.2,1358.5], u=[-10.8,-7.9], v=[14.5,-6.0];
  for(let i=0;i<5;i++){ for(let j=0;j<5;j++){
    const px=o[0]+i*u[0]+j*v[0], py=o[1]+i*u[1]+j*v[1];
    const e=mk('ellipse',g); at(e,{cx:px,cy:py,rx:4,ry:2.4,fill:'#cfe8ff',stroke:'#10b0c0','stroke-width':1});
     
  }}
  for(let i=4;i>=0;i--){ for(let j=0;j<5;j++){
    const px=o[0]+i*u[0]+j*v[0], py=o[1]+i*u[1]+j*v[1];
    shape(g,'M'+(px-3.5)+',1150 L'+(px+3.5)+',1150 L'+(px+1)+','+(py-18)+' L'+px+','+(py-4)+' L'+(px-1)+','+(py-18)+' Z','url(#spikeG)','spike');
  }}
  shape(g,'M117,1108 L293,1035 L430,1131 L253,1205 Z','#f7f500','plateau');
  const a=[14.7,-6.1], b=[11.0,7.8];
  for(let i=0;i<5;i++){ for(let j=0;j<5;j++){
    const x=221+i*a[0]+j*b[0], y=1117.4+i*a[1]+j*b[1];
    shape(g,'M'+(x-5)+','+y+' L'+x+','+(y-3)+' L'+(x+6)+','+y+' L'+(x+1)+','+(y+3.2)+' Z','#fbc500','dimple');
  }}
  zLabels(g,112,1125,1295,['450','400','350','300','250','200','150','100','50']);
  fLabel(g,86,1215,'F14');
  floorTicks(g,[[107,1338,'100'],[141,1362,'50'],[176,1385,'0'],[210,1408,'-50'],[240,1437,'-100'],[268,1437,'-100'],[310,1419,'-50'],[350,1400,'0'],[399,1380,'50'],[441,1362,'100']]);
  axLabel(g,182,1428,'x','2'); axLabel(g,330,1433,'x','1');
})();

// ================== PANEL F 3D (F17) ==================
(function(){
  const g = mk('g');  
  ptitle(g,1021,1028);
  grid3d(g,854,1127,1318,[854,1318],[1035,1240],[1178,1345],[1001,1420]);
  let cd='';
  for(let k=0;k<5;k++){ cd+='M'+(880+k*6)+','+(1340+k*2)+'Q'+(930)+','+(1345+k*6)+' '+(975+k*3)+','+(1410-k*2); cd+='M'+(1055+k*5)+','+(1385-k*3)+'Q'+(1090)+','+(1350+k*3)+' '+(1150-k*6)+','+(1345+k*2); }
  line3d(g,cd,'#7fb0f0',0.5,'floor-contours');
  shape(g,'M854,1304 Q880,1292 905,1296 L963,1270 Q1000,1262 1025,1250 Q1100,1280 1150,1300 L1177,1300 L1177,1323 Q1080,1350 1001,1417 Q930,1350 872,1332 L854,1318 Z','#3d2bb0','base-sheet');
  shape(g,'M1025,1262 C1048,1150 1058,1064 1075,1064 C1095,1064 1112,1150 1150,1300 Q1080,1320 1050,1330 Z','url(#parBox)','right-peak');
  shape(g,'M872,1310 C900,1220 912,1160 931,1160 C950,1160 962,1230 1000,1415 Q960,1360 872,1320 Z','url(#parBox)','left-peak');
  shape(g,'M1040,1345 C1070,1290 1088,1230 1103,1230 C1120,1230 1140,1290 1177,1322 L1030,1380 Z','url(#parF)','small-peak');
  zLabels(g,849,1127,1279,['2.5','2','1.5','1','0.5']);
  const m = txt(g,838,1094,'',7,{fill:'#333'}); const m1=mk('tspan',m); m1.textContent='×10'; const m2=mk('tspan',m); at(m2,{'font-size':5,dy:-3}); m2.textContent='8';
   
  fLabel(g,830,1215,'F17');
  floorTicks(g,[[858,1335,'4'],[872,1345,'3'],[886,1356,'2'],[900,1366,'1'],[914,1377,'0'],[927,1388,'-1'],[941,1398,'-2'],[955,1408,'-3'],[969,1418,'-4'],[983,1430,'-5'],[1023,1420,'-4'],[1060,1407,'-2'],[1095,1392,'0'],[1132,1378,'2'],[1168,1362,'4']]);
  axLabel(g,930,1432,'x','2'); axLabel(g,1068,1437,'x','1');
})();

// ================== OBJECTIVE CHARTS ==================
const fxA = i=>480.6+(i-50)*0.6436, fyA = v=>59.4 - v*1.2213;
drawChart({name:'chart-f2',box:[449.3,42.6,770.2,435.2],fx:fxA,fy:fyA,xticks:A_XTICKS,yticks:A_YTICKS,its:A_IT,vals:A_VAL,ylabX:423});
dashedZoom(746.5,47,777.2,135.7,'M746.5,135.7L664.3,205.3M777.2,135.7L754.4,315.7');
drawInset([664.3,205.3,754.4,315.7],i=>664.3+(i-400)*0.901,v=>211+(1-v)*1.79,A_IT,A_VAL,10,6);
drawLegend(456.2,355,536.2,430.2,360.3,9.23,475.8,495.1,496.7);
dataTip(585.2,329.5,54.4,24,'211','1.58869e-221');

const fxB = i=>1246.2+(i-50)*0.6376, fyB = v=>317.1 - v*32.5;
drawChart({name:'chart-f5',box:[1214.8,44.1,1533.8,434.2],fx:fxB,fy:fyB,xticks:B_XTICKS,yticks:B_YTICKS,its:B_IT,vals:B_VAL,ylabX:1198,minor:minorLog(fyB,-4,9,1)});
dashedZoom(1204,235.9,1263.2,276.5,'M1263.2,235.9L1425.8,277.9M1204,276.5L1311.3,418.7');
drawInset([1311.3,277.9,1425.8,418.7],i=>1322+i*1.2,v=>290+(2.5-v)*22,B_IT,B_VAL,10,6);
drawLegend(1442.8,48.4,1528.4,118.3,53.8,8.5,1465.4,1484.1,1486);

const C_POS_V = [-2000,-3000,-4000,-5000,-6000,-7000,-8000,-9000,-10000,-11000,-12000];
function fyC(v){
  const P=[593.3,667.5,720.3,761.3,794.6,822.5,846.8,868.6,887.5,905.3,921.3];
  let k=0; if(v>C_POS_V[0]) k=0; else if(v<=C_POS_V[10]) k=9; else { while(!(v<=C_POS_V[k]&&v>=C_POS_V[k+1])) k++; }
  return P[k]+(v-C_POS_V[k])/(C_POS_V[k+1]-C_POS_V[k])*(P[k+1]-P[k]);
}
const fxC = i=>484.3+(i-50)*0.648;
drawChart({name:'chart-f8',box:[453.3,537,776,934.7],fx:fxC,fy:fyC,xticks:C_XTICKS,yticks:C_YTICKS,its:C_IT,vals:C_VAL,ylabX:421,linear:true});
dashedZoom(727,848,782,950,'M727,950L480,724M782,848L648,552');
drawInset([480,552,648,724],i=>490+(i-400)*1.55,v=>560+(-8000-v)/4500*154,C_IT,C_VAL,10,9);
drawLegend(685.7,538,769.8,611,543.7,8.8,707,727,728.2);
dataTip(466,904,33,22,'20','-12564');
dataTip(624,904,42,22,'265','-12327.6');

const fxD = i=>1249+(i-50)*0.6384, fyD = v=>559+(8-v)*25.44;
drawChart({name:'chart-f11',box:[1218.2,537.3,1536.3,926.2],fx:fxD,fy:fyD,xticks:D_XTICKS,yticks:D_YTICKS,its:D_IT,vals:D_VAL,ylabX:1203,minor:minorLog(fyD,-7,9,1)});
drawLegend(1420.7,544.5,1527.8,620.1,550,9.2,1454,1474,1475);
dataTip(1374.1,902,50,23,'244','3.35149e-07');
dataTip(1464,900,49,23,'466','4.02418e-07');

const fxE = i=>502.6+(i-50)*0.6149, fyE = v=>1408.9 - v*141.2;
drawChart({name:'chart-f14',box:[472.8,1032.9,779.3,1408.9],fx:fxE,fy:fyE,xticks:E_XTICKS,yticks:E_YTICKS,its:E_IT,vals:E_VAL,ylabX:455,minor:minorLog(fyE,0,2.6,1)});
dashedZoom(455,1350.6,544.2,1423.8,'M455,1350.6L528.7,1070.2M544.2,1423.8L663.1,1235');
drawInset([528.7,1070.2,663.1,1235],i=>541.4+(i-10)*1.35,v=>1218.7-(Math.pow(10,v)-1)*86.9,E_IT,E_VAL,9,10);
drawLegend(679.7,1039.9,771.5,1112.5,1045.3,8.8,706.2,724.6,726);
[[532,1227,'16'],[557,1227,'40'],[573,1227,'44'],[611,1227,'62'],[631,1227,'67']].forEach(([x,y,s])=>dataTip(x-1,y-7,17,8,s,'0.998'));

const fxF = i=>1234.5+(i-50)*0.6336, fyF = v=>1269.1+(1-v)*271;
drawChart({name:'chart-f17',box:[1203.8,1025.9,1520.1,1411],fx:fxF,fy:fyF,xticks:F_XTICKS,yticks:F_YTICKS,its:F_IT,vals:F_VAL,ylabX:1188});
dashedZoom(1192.5,1372.4,1250.8,1424,'M1192.5,1372.4L1279.3,1125.9M1250.8,1424L1478.3,1369.7');
drawInset([1279.3,1125.9,1478.3,1369.7],i=>1284.2+i*6.96,v=>1344.3-(Math.pow(10,v)-3)*400,F_IT,F_VAL,6,8);
drawLegend(1432.2,1033.6,1509.5,1103.3,1039.1,8.5,1450.7,1469.9,1471);
dataTip(1294,1345,25,12,'4','3.00147');
dataTip(1380,1345,25,12,'16','3.00182');
dataTip(1431,1345,25,12,'20','3.00211');

caption(364,503,'a','F2');
caption(1139,503,'b','F5');
caption(367,1003,'c','F8');
caption(1132,1003,'d','F11');
caption(358,1485,'e','F14');
caption(1137,1485,'f','F17');
</script>
</body></html>
